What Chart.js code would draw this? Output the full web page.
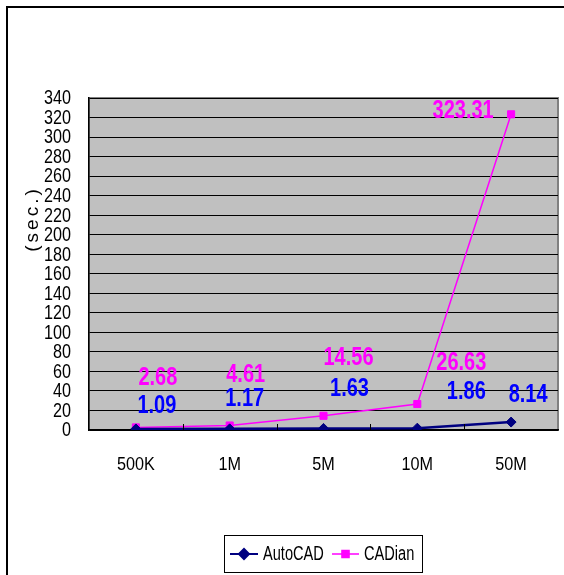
<!DOCTYPE html>
<html>
<head>
<meta charset="utf-8">
<script src="https://cdn.jsdelivr.net/npm/chart.js@4.4.1/dist/chart.umd.min.js"></script>
<style>
html, body { margin: 0; padding: 0; background: #fff; }
canvas { display: block; }
</style>
</head>
<body>
<canvas id="chart" width="564" height="575"></canvas>
<script>
const categories = ["500K", "1M", "5M", "10M", "50M"];
const autocadTimes = [1.09, 1.17, 1.63, 1.86, 8.14];
const cadianTimes = [2.68, 4.61, 14.56, 26.63, 323.31];
const seriesNames = ["AutoCAD", "CADian"];
const yMin = 0, yMax = 340, yStep = 20;
const yTitle = "(sec.)";

// where each value label sits relative to its point (px)
const autocadLabelOffset = [[21, -23], [15, -30], [26, -39], [49, -36], [17, -27]];
const cadianLabelOffset = [[22, -49], [16, -50], [25, -58], [44, -41], [-48, -3]];

const FONT = '"Liberation Sans", Arial, sans-serif';
const NAVY = '#000080', MAGENTA = '#ff00ff', BLUE = '#0000ff';
const HIDDEN = 'rgba(0,0,0,0)';

// the original uses a narrow face; squeeze regular Arial-like text horizontally
function narrowText(ctx, text, x, y, font, sx, align) {
    ctx.save();
    ctx.translate(x, y);
    ctx.scale(sx, 1);
    ctx.font = font;
    ctx.textAlign = align;
    ctx.textBaseline = 'middle';
    ctx.fillText(text, 0, 0);
    ctx.restore();
}

const excelLook = {
    id: 'excelLook',
    beforeDraw(chart) {
        const { ctx, chartArea: a } = chart;
        ctx.save();
        ctx.fillStyle = '#fff';
        ctx.fillRect(0, 0, chart.width, chart.height);
        ctx.strokeStyle = '#000';
        ctx.lineWidth = 2;
        ctx.strokeRect(7, 7, chart.width + 20, chart.height + 20);
        ctx.fillStyle = '#c0c0c0';
        ctx.fillRect(a.left, a.top, a.right - a.left, a.bottom - a.top);
        ctx.strokeStyle = '#808080';
        ctx.lineWidth = 2;
        ctx.strokeRect(a.left, a.top, a.right - a.left, a.bottom - a.top);
        ctx.restore();
    },
    afterDatasetsDraw(chart) {
        const ctx = chart.ctx;
        const sets = [[autocadTimes, autocadLabelOffset, BLUE, 0], [cadianTimes, cadianLabelOffset, MAGENTA, 1]];
        sets.forEach(([vals, offs, col, di]) => {
            const pts = chart.getDatasetMeta(di).data;
            ctx.fillStyle = col;
            vals.forEach((v, i) => {
                narrowText(ctx, v.toFixed(2), pts[i].x + offs[i][0], pts[i].y + offs[i][1], 'bold 25px ' + FONT, 0.8, 'center');
            });
        });
    },
    afterDraw(chart) {
        const { ctx, chartArea: a } = chart;
        const xs = chart.scales.x, ys = chart.scales.y;
        ctx.save();
        ctx.strokeStyle = '#000';
        ctx.lineWidth = 1;
        for (let i = 1; i < categories.length; i++) {
            const x = Math.round((xs.getPixelForValue(i - 1) + xs.getPixelForValue(i)) / 2) + 0.5;
            ctx.beginPath();
            ctx.moveTo(x, a.bottom - 6);
            ctx.lineTo(x, a.bottom);
            ctx.stroke();
        }
        ctx.fillStyle = '#000';
        // tick labels
        ys.ticks.forEach(t => {
            narrowText(ctx, String(t.value), a.left - 18, ys.getPixelForValue(t.value) + 1, '19.5px ' + FONT, 0.83, 'right');
        });
        categories.forEach((c, i) => {
            narrowText(ctx, c, xs.getPixelForValue(i), a.bottom + 35, '18px ' + FONT, 0.9, 'center');
        });
        // y axis title
        ctx.translate(a.left - 56, a.top + 121);
        ctx.rotate(-Math.PI / 2);
        ctx.font = '19px ' + FONT;
        ctx.letterSpacing = '3px';
        ctx.textAlign = 'center';
        ctx.textBaseline = 'middle';
        ctx.fillText(yTitle, 0, 0);
        ctx.restore();

        // legend
        ctx.save();
        ctx.fillStyle = '#fff';
        ctx.fillRect(224, 535, 198, 37);
        ctx.strokeStyle = '#000';
        ctx.lineWidth = 1;
        ctx.strokeRect(224.5, 535.5, 198, 37);
        const ly = 554;
        const items = [
            { x0: 230, x1: 258, tx: 263, col: NAVY, style: 'rectRot', name: seriesNames[0], w: 2 },
            { x0: 332, x1: 359, tx: 364, col: MAGENTA, style: 'rect', name: seriesNames[1], w: 1.5 }
        ];
        items.forEach(it => {
            ctx.strokeStyle = it.col;
            ctx.lineWidth = it.w;
            ctx.beginPath();
            ctx.moveTo(it.x0, ly);
            ctx.lineTo(it.x1, ly);
            ctx.stroke();
            Chart.helpers.drawPoint(ctx, { pointStyle: it.style, radius: 5, borderWidth: 1 }, (it.x0 + it.x1) / 2, ly);
            ctx.fillStyle = it.col;
            ctx.fill();
            ctx.fillStyle = '#000';
            narrowText(ctx, it.name, it.tx, ly, '20px ' + FONT, 0.73, 'left');
        });
        ctx.restore();
    }
};

new Chart(document.getElementById('chart'), {
    type: 'line',
    data: {
        labels: categories,
        datasets: [
            { label: seriesNames[0], data: autocadTimes, borderColor: NAVY, backgroundColor: NAVY,
              borderWidth: 2.5, pointStyle: 'rectRot', pointRadius: 5, pointBorderWidth: 1, tension: 0 },
            { label: seriesNames[1], data: cadianTimes, borderColor: MAGENTA, backgroundColor: MAGENTA,
              borderWidth: 1.5, pointStyle: 'rect', pointRadius: 5, pointBorderWidth: 1, tension: 0 }
        ]
    },
    options: {
        responsive: false,
        animation: false,
        devicePixelRatio: 1,
        layout: { padding: { left: 0, top: 98, right: 3, bottom: 0 } },
        plugins: { legend: { display: false }, tooltip: { enabled: false } },
        scales: {
            x: {
                offset: true,
                grid: { display: false, offset: true },
                border: { color: '#000', width: 1.5 },
                ticks: { color: HIDDEN, font: { family: FONT, size: 18 }, padding: 24, maxRotation: 0 },
                afterFit: s => { s.height = 145; }
            },
            y: {
                min: yMin, max: yMax,
                grid: { color: '#000', lineWidth: 1, drawTicks: false },
                border: { color: '#000', width: 1.5 },
                ticks: { stepSize: yStep, autoSkip: false, color: HIDDEN, padding: 18,
                         font: { family: FONT, size: 19, lineHeight: 1 } },
                afterFit: s => { s.width = 89; }
            }
        }
    },
    plugins: [excelLook]
});
</script>
</body>
</html>
